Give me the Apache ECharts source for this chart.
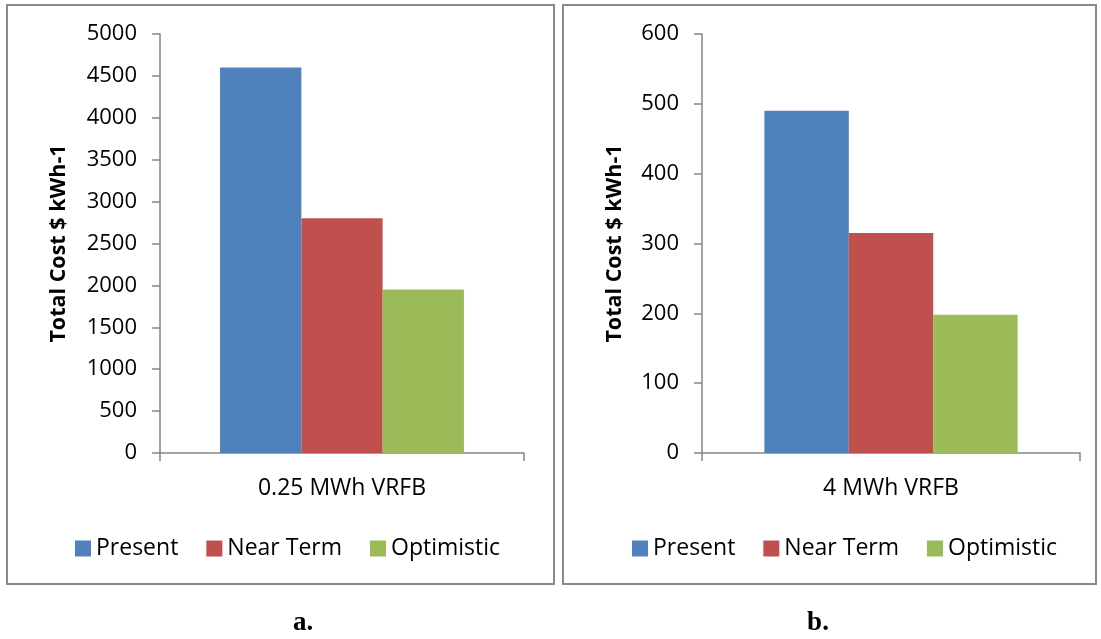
<!DOCTYPE html>
<html>
<head>
<meta charset="utf-8">
<script src="https://cdn.jsdelivr.net/npm/echarts@6/dist/echarts.min.js"></script>
<style>
  html, body { margin: 0; padding: 0; background: #fff; }
  #chart { width: 1101px; height: 639px; }
</style>
</head>
<body>
<div id="chart"></div>
<script>
// Total cost of vanadium redox flow battery systems, two system sizes
const seriesNames = ['Present', 'Near Term', 'Optimistic'];
const seriesColors = ['#4F81BD', '#C0504D', '#9BBB59'];

const categoriesA = ['0.25 MWh VRFB'];
const presentA = [4600];
const nearTermA = [2800];
const optimisticA = [1950];

const categoriesB = ['4 MWh VRFB'];
const presentB = [490];
const nearTermB = [315];
const optimisticB = [198];

const yTitle = 'Total Cost $ kWh-1';
const panelLabels = ['a.', 'b.'];

const FONT = '"Open Sans"';
const AXIS_GRAY = '#868686';

function makeXAxis(idx, cats) {
  return {
    type: 'category', gridIndex: idx, data: cats,
    axisLine: { lineStyle: { color: AXIS_GRAY, width: 1.5 } },
    axisTick: { show: true, length: 8, lineStyle: { color: AXIS_GRAY, width: 1.5 } },
    axisLabel: { color: '#000', fontFamily: FONT, fontSize: 23, margin: 24 }
  };
}
function makeYAxis(idx, max, interval, gap) {
  return {
    type: 'value', gridIndex: idx, min: 0, max: max, interval: interval,
    name: yTitle, nameLocation: 'middle', nameGap: gap,
    nameTextStyle: { color: '#000', fontFamily: FONT, fontWeight: 'bold', fontSize: 21.5 },
    splitLine: { show: false },
    axisLine: { show: true, lineStyle: { color: AXIS_GRAY, width: 1.5 } },
    axisTick: { show: true, length: 8, lineStyle: { color: AXIS_GRAY, width: 1.5 } },
    axisLabel: { color: '#000', fontFamily: FONT, fontSize: 22, margin: 23,
      formatter: v => String(v) }
  };
}
function makeSeries(idx, values) {
  return values.map((v, i) => ({
    name: seriesNames[i], type: 'bar', xAxisIndex: idx, yAxisIndex: idx,
    data: v, barGap: '0%', barCategoryGap: '33%',
    itemStyle: { color: seriesColors[i] }
  }));
}
function makeLegend(left) {
  return {
    data: seriesNames, left: left, top: 532, orient: 'horizontal',
    itemWidth: 16, itemHeight: 16, itemGap: 28, icon: 'rect',
    selectedMode: false,
    textStyle: { color: '#000', fontFamily: FONT, fontSize: 23, padding: [0, 0, 0, 0] }
  };
}

const chart = echarts.init(document.getElementById('chart'), null, { renderer: 'canvas' });
chart.setOption({
  animation: false,
  backgroundColor: '#fff',
  graphic: [
    { type: 'rect', shape: { x: 7, y: 5, width: 547, height: 579 },
      style: { fill: 'none', stroke: '#8a8a8a', lineWidth: 2 }, silent: true, z: -1 },
    { type: 'rect', shape: { x: 563, y: 5, width: 533, height: 579 },
      style: { fill: 'none', stroke: '#8a8a8a', lineWidth: 2 }, silent: true, z: -1 },
    { type: 'text', x: 303, y: 623,
      style: { text: panelLabels[0], x: 0, y: 0, align: 'center', verticalAlign: 'middle',
        font: 'bold 27px "Liberation Serif", "DejaVu Serif", serif', fill: '#000' } },
    { type: 'text', x: 818, y: 623,
      style: { text: panelLabels[1], x: 0, y: 0, align: 'center', verticalAlign: 'middle',
        font: 'bold 27px "Liberation Serif", "DejaVu Serif", serif', fill: '#000' } }
  ],
  legend: [makeLegend(70), makeLegend(627)],
  grid: [
    { left: 160, right: 577, top: 34, bottom: 186 },
    { left: 702, right: 21, top: 34, bottom: 186 }
  ],
  xAxis: [makeXAxis(0, categoriesA), makeXAxis(1, categoriesB)],
  yAxis: [makeYAxis(0, 5000, 500, 90), makeYAxis(1, 600, 100, 76)],
  series: [
    ...makeSeries(0, [presentA, nearTermA, optimisticA]),
    ...makeSeries(1, [presentB, nearTermB, optimisticB])
  ]
});
</script>
</body>
</html>
